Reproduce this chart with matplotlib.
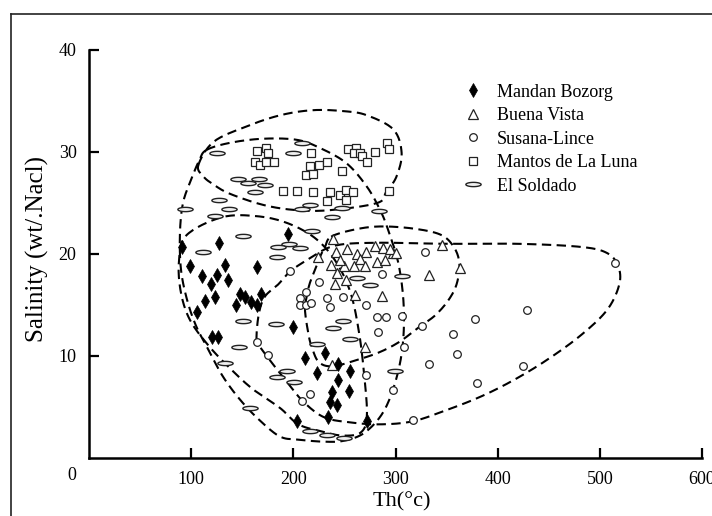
import numpy as np
import matplotlib
matplotlib.use('Agg')
import matplotlib.pyplot as plt
from matplotlib.path import Path
from matplotlib.lines import Line2D

plt.rcParams['font.family'] = ['Liberation Serif', 'DejaVu Serif']

# ---- data (Th in degC, salinity in wt% NaCl) ----
mb_x = [90.7, 127.5, 195, 98.9, 133.1, 164.4, 110.3, 125, 135.8, 119.5, 123.3, 113.5,
        147.8, 152.7, 143.9, 158.3, 164.7, 168, 105.4, 200, 120.1, 126.6, 211.4, 231,
        222.9, 243.4, 255.5, 243.4, 254.8, 237.5, 235.9, 242.4, 234.2, 203.3, 271.8]
mb_y = [20.7, 21.1, 22.0, 18.8, 18.9, 18.7, 17.8, 17.9, 17.5, 17.1, 15.8, 15.4,
        16.1, 15.8, 15.0, 15.3, 15.0, 16.1, 14.3, 12.8, 11.9, 11.9, 9.8, 10.3,
        8.3, 9.2, 8.5, 7.6, 6.6, 6.5, 5.5, 5.2, 4.0, 3.6, 3.6]

bv_x = [239.1, 241.8, 252.2, 262, 271.1, 280, 287.4, 297.3, 224.4, 236.6, 242.4, 240.8,
        251.5, 249.9, 259.4, 265.2, 270.1, 281.6, 289.7, 245.7, 260.3, 286.5, 270.1,
        237.5, 294.6, 300.5, 345.2, 333.1, 363.1]
bv_y = [21.5, 20.2, 20.5, 20.0, 20.2, 20.8, 20.6, 20.1, 19.7, 18.9, 18.1, 17.1,
        17.5, 18.8, 18.8, 19.5, 18.8, 19.2, 19.4, 19.4, 16.0, 15.9, 10.9,
        9.1, 20.5, 20.1, 20.9, 17.9, 18.6]

sl_x = [196.7, 225.4, 212.4, 232.6, 248.9, 206.5, 206.5, 212.4, 217, 235.9, 271.1, 286.5,
        281.6, 290.7, 283.2, 164.1, 174.9, 271.1, 216.3, 208.2, 297.8, 328.9, 514.8,
        306, 325.6, 308.3, 356.6, 377.8, 428.4, 360.5, 333.1, 425.1, 379.5, 317.4]
sl_y = [18.3, 17.3, 16.3, 15.7, 15.8, 15.7, 15.0, 15.0, 15.2, 14.8, 15.0, 18.0,
        13.8, 13.8, 12.4, 11.4, 10.1, 8.1, 6.3, 5.6, 6.7, 20.2, 19.1,
        13.9, 12.9, 10.9, 12.2, 13.6, 14.5, 10.2, 9.2, 9.0, 7.4, 3.7]

ml_x = [164.7, 173.2, 175.5, 162.5, 167.4, 173, 181.4, 217.3, 216.3, 225.4, 232.7, 212.4,
        219, 247.3, 253.8, 261.3, 259.4, 265.2, 267, 271.8, 280, 291.4, 294, 190.2,
        203.3, 219.5, 235.9, 232.7, 245.7, 251.5, 258.7, 251.5, 294]
ml_y = [30.1, 30.4, 29.9, 29.0, 28.7, 29.0, 29.0, 29.9, 28.6, 28.7, 29.0, 27.7,
        27.8, 28.1, 30.3, 30.4, 29.9, 29.9, 29.6, 29.0, 30.0, 30.9, 30.3, 26.2,
        26.2, 26.1, 26.1, 25.2, 25.8, 26.3, 26.1, 25.3, 26.2]

es_x = [208.2, 125, 199.4, 146.1, 166.7, 155.9, 172.3, 162.5, 127.5, 137.3, 123.3, 208.2,
        216.3, 247.3, 237.5, 284.1, 93.5, 151, 111.3, 218, 196, 185.3, 206.5, 184.3,
        262, 275, 151, 183, 248.9, 239.1, 255.5, 222.9, 147.1, 133.1, 194.1, 183.7,
        200.6, 299.5, 157.6, 216.3, 232.6, 306, 250]
es_y = [30.9, 29.9, 29.9, 27.4, 27.4, 27.0, 26.8, 26.1, 25.3, 24.4, 23.7, 24.4,
        24.8, 24.5, 23.6, 24.2, 24.4, 21.8, 20.2, 22.3, 21.0, 20.7, 20.6, 19.7,
        17.6, 17.0, 13.4, 13.1, 13.4, 12.7, 11.7, 11.2, 10.9, 9.3, 8.5, 7.9,
        7.5, 8.5, 4.9, 2.6, 2.3, 17.8, 2.0]

# hand-drawn field outlines (data coordinates)
ml_env_x = [107, 122, 154, 187, 219, 250, 272, 298, 306, 301, 291, 282, 236, 203, 171, 138, 122, 112]
ml_env_y = [28.7, 31.0, 32.5, 33.6, 34.1, 34.0, 33.6, 32.2, 29.9, 27.6, 26.1, 25.0, 24.3, 24.3, 24.8, 25.9, 26.8, 27.6]

es_env_x = [115, 138, 170, 203, 226, 252, 272, 285, 293, 303, 308, 307, 300, 288, 270, 250, 230,
            205, 187, 167, 148, 131, 117, 105, 96, 90, 89, 92, 100, 108]
es_env_y = [30.2, 30.9, 31.3, 31.2, 30.4, 28.9, 26.6, 24.3, 22.3, 19, 15, 11, 7.5, 4.5, 2.5, 1.7, 1.6,
            1.8, 2.1, 3.7, 5.7, 8, 10.6, 12.9, 15.5, 18.5, 22, 25, 27.3, 29.2]

mb_env_x = [95, 130, 165, 195, 222, 242, 256, 264, 269, 272, 266, 248, 228, 205, 187, 161, 141, 118, 99, 90, 88]
mb_env_y = [21.8, 23.6, 23.7, 23.0, 21.5, 19.2, 16.2, 12.5, 8.5, 4.2, 2.5, 2.2, 2.6, 3.3, 4.9, 6.7, 8.5, 10.9, 13.5, 16.2, 19.2]

bv_env_x = [237, 260, 285, 317, 344, 357, 362.5, 360, 352, 339, 324, 304, 285, 265, 239, 225,
            218, 214.7, 211.4, 213, 216, 221, 226, 231]
bv_env_y = [21.7, 22.4, 22.7, 22.5, 21.9, 20.7, 19.1, 17.1, 15.5, 14.0, 12.9, 11.4, 10.4, 9.7, 9.0, 9.4,
            10.9, 12.2, 14.5, 15.8, 17.1, 18.4, 19.7, 20.7]

sl_env_x = [164, 166, 172, 185, 197, 215, 240, 280, 350, 420, 481, 507, 518, 519, 507, 481, 448, 415,
            383, 350, 317, 285, 255, 230, 210, 195, 180, 168]
sl_env_y = [11.5, 14, 15.8, 17, 18.3, 19.5, 20.8, 21.1, 21.0, 21.0, 20.7, 20.1, 18.8, 17, 14.5, 12, 9.6, 7.6,
            6, 4.7, 3.6, 3.3, 3.5, 4, 5.5, 7.3, 9.2, 10.8]

labels = ['Mandan Bozorg', 'Buena Vista', 'Susana-Lince', 'Mantos de La Luna', 'El Soldado']


def smooth_closed(xs, ys, n=16):
    # closed Catmull-Rom curve through the outline points
    p = np.column_stack([xs, ys]).astype(float)
    m = len(p)
    t = np.linspace(0, 1, n, endpoint=False)[:, None]
    segs = []
    for i in range(m):
        p0, p1, p2, p3 = p[i - 1], p[i], p[(i + 1) % m], p[(i + 2) % m]
        segs.append(0.5 * (2 * p1 + (-p0 + p2) * t + (2 * p0 - 5 * p1 + 4 * p2 - p3) * t ** 2
                           + (-p0 + 3 * p1 - 3 * p2 + p3) * t ** 3))
    out = np.vstack(segs + [segs[0][:1]])
    return out[:, 0], out[:, 1]


theta = np.linspace(0, 2 * np.pi, 60)
ell_marker = Path(np.column_stack([np.cos(theta), 0.28 * np.sin(theta)]), closed=True)

fig = plt.figure(figsize=(7.12, 5.16), dpi=100)
ax = fig.add_axes([89 / 712, 58 / 516, 613 / 712, 408 / 516])
ax.set_xlim(0, 600)
ax.set_ylim(0, 40)

for ex, ey in [(ml_env_x, ml_env_y), (es_env_x, es_env_y), (mb_env_x, mb_env_y),
               (bv_env_x, bv_env_y), (sl_env_x, sl_env_y)]:
    sx, sy = smooth_closed(ex, ey)
    ax.plot(sx, sy, color='black', lw=1.5, linestyle=(0, (4.5, 2.6)), zorder=2)

ax.plot(es_x, es_y, ls='none', marker=ell_marker, ms=11, mfc='#f0f0f0', mec='#222222', mew=1.0,
        zorder=3, label=labels[4])
ax.plot(ml_x, ml_y, ls='none', marker='s', ms=5.5, mfc='white', mec='#222222', mew=0.9,
        zorder=3, label=labels[3])
ax.plot(sl_x, sl_y, ls='none', marker='o', ms=5.5, mfc='white', mec='#222222', mew=0.9,
        zorder=3, label=labels[2])
ax.plot(bv_x, bv_y, ls='none', marker='^', ms=7, mfc='white', mec='#222222', mew=0.9,
        zorder=3, label=labels[1])
ax.plot(mb_x, mb_y, ls='none', marker='d', ms=7.5, mfc='black', mec='black', mew=0.5,
        zorder=4, label=labels[0])

handles, labs = ax.get_legend_handles_labels()
order = [labs.index(l) for l in labels]
ax.legend([handles[i] for i in order], labels, loc='upper left', bbox_to_anchor=(0.6, 0.935),
          frameon=False, fontsize=13, handlelength=1.0, handletextpad=0.8, labelspacing=0.36,
          borderaxespad=0)

for s in ['top', 'right']:
    ax.spines[s].set_visible(False)
for s in ['left', 'bottom']:
    ax.spines[s].set_linewidth(1.8)
ax.set_xticks([100, 200, 300, 400, 500, 600])
ax.set_yticks([10, 20, 30, 40])
ax.tick_params(direction='in', length=7, width=1.6, labelsize=13, pad=9)
ax.text(-16.5, -1.7, '0', ha='center', va='center', fontsize=13, clip_on=False)

fig.text(402 / 712, 1 - 502 / 516, 'Th(°c)', ha='center', va='center', fontsize=16)
fig.text(37 / 712, 1 - 249 / 516, 'Salinity (wt/.Nacl)', rotation=90, ha='center', va='center',
         fontsize=18)

# outer frame of the original figure
fig.add_artist(Line2D([11 / 712, 11 / 712], [0, 1 - 14 / 516], transform=fig.transFigure,
                      color='#222222', lw=1.2))
fig.add_artist(Line2D([11 / 712, 1], [1 - 14 / 516, 1 - 14 / 516], transform=fig.transFigure,
                      color='#222222', lw=1.2))

fig.savefig('out.png', dpi=100)
